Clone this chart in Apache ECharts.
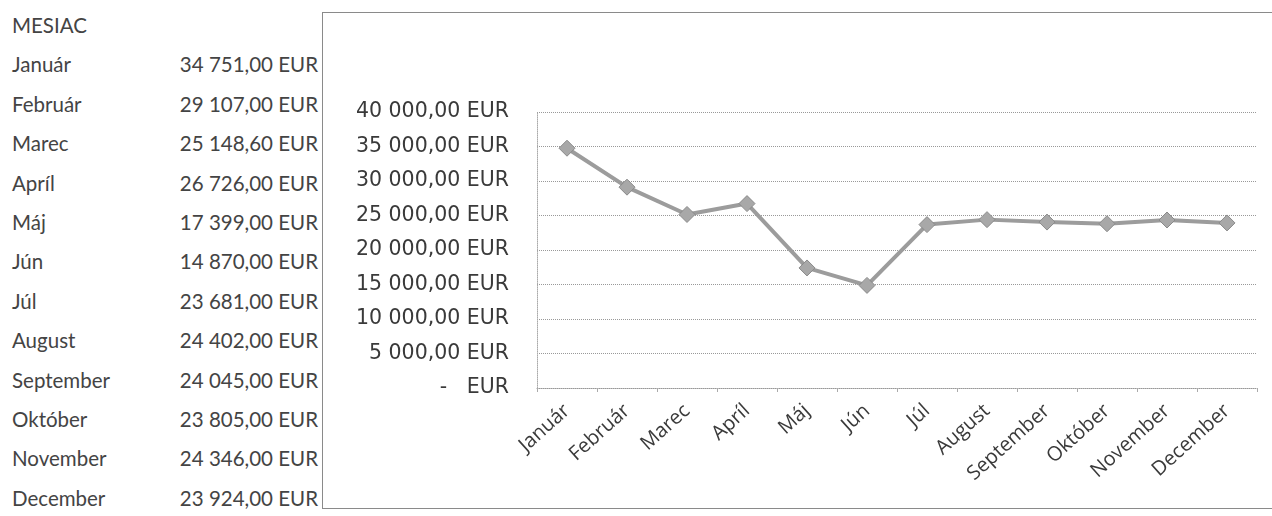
<!DOCTYPE html>
<html>
<head>
<meta charset="utf-8">
<script src="https://cdn.jsdelivr.net/npm/echarts@6/dist/echarts.min.js"></script>
<style>
  html, body { margin: 0; padding: 0; background: #fff; }
  body { width: 1272px; height: 516px; position: relative; overflow: hidden; font-family: Lato, "Open Sans", sans-serif; color: #444; }
  #table { position: absolute; left: 12px; top: 6px; width: 306px; font-size: 20.5px; }
  #table .row { height: 39.4px; line-height: 39.4px; display: flex; justify-content: space-between; }
  #chart { position: absolute; left: 322px; top: 12px; width: 949px; height: 495px; border: 1px solid #8a8a8a; border-right: none; }
</style>
</head>
<body>
<div id="table"></div>
<div id="chart"></div>
<script>
// mesiace a sumy
var months = ['Január', 'Február', 'Marec', 'Apríl', 'Máj', 'Jún', 'Júl', 'August', 'September', 'Október', 'November', 'December'];
var tableMonths = ['Január', 'Február', 'Marec', 'Apríl', 'Máj', 'Jún', 'Júl', 'August', 'September', 'Október', 'November', 'December'];
var amounts = [34751, 29107, 25148.6, 26726, 17399, 14870, 23681, 24402, 24045, 23805, 24346, 23924];
var yTicks = [0, 5000, 10000, 15000, 20000, 25000, 30000, 35000, 40000];

function eur (v) {
  if (v === 0) return '-   EUR';
  var parts = v.toFixed(2).split('.');
  var whole = parts[0].replace(/\B(?=(\d{3})+(?!\d))/g, ' ');
  return whole + ',' + parts[1] + ' EUR';
}

// tabulka vlavo
var html = '<div class="row"><span>MESIAC</span><span></span></div>';
for (var i = 0; i < tableMonths.length; i++) {
  html += '<div class="row"><span>' + tableMonths[i] + '</span><span>' + eur(amounts[i]) + '</span></div>';
}
document.getElementById('table').innerHTML = html;

var chart = echarts.init(document.getElementById('chart'));
chart.setOption({
  animation: false,
  grid: { left: 214, right: 15, top: 99, bottom: 120 },
  xAxis: {
    type: 'category',
    data: months,
    boundaryGap: true,
    axisLine: { lineStyle: { color: '#999', type: 'dotted' } },
    axisTick: { show: true, length: 4, lineStyle: { color: '#aaa' } },
    axisLabel: { rotate: 42, color: '#3a3a3a', fontSize: 20, fontFamily: 'Open Sans', margin: 20 }
  },
  yAxis: {
    type: 'value',
    min: yTicks[0],
    max: yTicks[yTicks.length - 1],
    interval: 5000,
    axisLine: { show: true, lineStyle: { color: '#aaa', type: 'dotted' } },
    axisTick: { show: false },
    axisLabel: { color: '#3a3a3a', fontSize: 20.5, fontFamily: 'DejaVu Sans', margin: 28, formatter: eur },
    splitLine: { lineStyle: { color: '#999', type: 'dotted' } }
  },
  series: [{
    type: 'line',
    data: amounts,
    symbol: 'diamond',
    symbolSize: 16,
    lineStyle: { color: '#9c9c9c', width: 4 },
    itemStyle: { color: '#a8a8a8', borderColor: '#8a8a8a', borderWidth: 1 }
  }]
});
</script>
</body>
</html>
